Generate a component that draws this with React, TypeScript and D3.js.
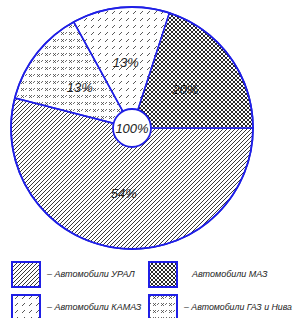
import * as d3 from "d3";
import React from "react";

const brands = ["УРАЛ", "ГАЗ", "КАМАЗ", "МАЗ"];
const shares = [54, 13, 13, 20];
const patterns = ["hatch", "gaz", "kamaz", "maz"];
const legendLabels = [
  "– Автомобили УРАЛ",
  "Автомобили МАЗ",
  "– Автомобили КАМАЗ",
  "– Автомобили ГАЗ и Нива",
];
const legendPatterns = ["hatch", "maz", "kamaz", "gaz"];

const blue = "#1f1fe6";

export default function App() {
  const width = 298;
  const height = 318;
  const cx = 132;
  const cy = 128;
  const radius = 121;
  const holeR = 19;

  const data = brands.map((b, i) => ({ brand: b, value: shares[i], pat: patterns[i] }));
  const pie = d3
    .pie<{ brand: string; value: number; pat: string }>()
    .sort(null)
    .value((d) => d.value)
    .startAngle(Math.PI / 2)
    .endAngle(Math.PI / 2 + 2 * Math.PI);
  const arcs = pie(data);
  const arc = d3
    .arc<d3.PieArcDatum<{ brand: string; value: number; pat: string }>>()
    .innerRadius(0)
    .outerRadius(radius);
  const labelArc = d3
    .arc<d3.PieArcDatum<{ brand: string; value: number; pat: string }>>()
    .innerRadius(66)
    .outerRadius(66);

  return (
    <svg
      width={width}
      height={height}
      style={{ position: "absolute", left: 0, top: 0, background: "#fff" }}
    >
      <defs>
        <pattern id="hatch" width="4" height="4" patternUnits="userSpaceOnUse">
          <path d="M-1,5 L5,-1 M-1,1 L1,-1 M3,5 L5,3" stroke="#222" strokeWidth="0.9" />
        </pattern>
        <pattern id="maz" width="4" height="4" patternUnits="userSpaceOnUse">
          <rect width="4" height="4" fill="#fff" />
          <path
            d="M-1,5 L5,-1 M-1,1 L1,-1 M3,5 L5,3 M-1,-1 L5,5 M-1,3 L1,5 M3,-1 L5,1"
            stroke="#111"
            strokeWidth="0.9"
          />
        </pattern>
        <pattern id="kamaz" width="7" height="7" patternUnits="userSpaceOnUse">
          <path d="M1,5 L4,2" stroke="#444" strokeWidth="0.9" />
        </pattern>
        <pattern id="gaz" width="8" height="7" patternUnits="userSpaceOnUse">
          <path d="M1,2 L4,5 M1,5 L4,2 M5,4 L7,2" stroke="#444" strokeWidth="0.8" />
        </pattern>
      </defs>

      <g transform={`translate(${cx},${cy})`}>
        {arcs.map((a) => (
          <path
            key={a.data.brand}
            d={arc(a) || ""}
            fill={`url(#${a.data.pat})`}
            stroke={blue}
            strokeWidth={1.5}
          />
        ))}
        <circle r={radius} fill="none" stroke={blue} strokeWidth={1.8} />
        {arcs.map((a) => {
          const [x, y] = labelArc.centroid(a);
          return (
            <text
              key={"l" + a.data.brand}
              x={x}
              y={y}
              textAnchor="middle"
              dy="0.35em"
              fontFamily="Liberation Sans, sans-serif"
              fontStyle="italic"
              fontSize={13}
              fill="#222"
            >
              {a.data.value}%
            </text>
          );
        })}
        <circle r={holeR} fill="#fff" stroke={blue} strokeWidth={1.8} />
        <text
          textAnchor="middle"
          dy="0.35em"
          fontFamily="Liberation Sans, sans-serif"
          fontStyle="italic"
          fontSize={13}
          fill="#222"
        >
          {d3.sum(shares)}%
        </text>
      </g>

      {legendLabels.map((label, i) => {
        const col = i % 2;
        const row = Math.floor(i / 2);
        const x = col === 0 ? 12 : 149;
        const y = row === 0 ? 262 : 295;
        const tx = col === 0 ? 47 : i === 1 ? 192 : 184;
        return (
          <g key={label}>
            <rect
              x={x}
              y={y}
              width={28}
              height={25}
              fill={`url(#${legendPatterns[i]})`}
              stroke={blue}
              strokeWidth={2}
            />
            <text
              x={tx}
              y={y + 12}
              dy="0.35em"
              fontFamily="Liberation Sans, sans-serif"
              fontStyle="italic"
              fontSize={9}
              fill="#222"
              {...(i === 3 ? { textLength: 108, lengthAdjust: "spacingAndGlyphs" } : {})}
            >
              {label}
            </text>
          </g>
        );
      })}
    </svg>
  );
}
